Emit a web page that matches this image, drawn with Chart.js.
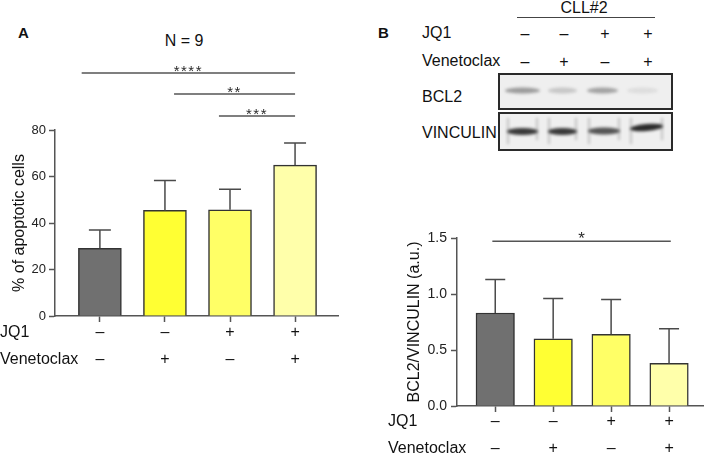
<!DOCTYPE html>
<html>
<head>
<meta charset="utf-8">
<script src="https://cdn.jsdelivr.net/npm/chart.js@4.4.1/dist/chart.umd.min.js"></script>
<style>
  body { margin: 0; width: 709px; height: 456px; background: #fff; position: relative; overflow: hidden;
         font-family: "Liberation Sans", Arial, sans-serif; color: #111; }
  .t { position: absolute; font-size: 16px; line-height: 16px; white-space: nowrap; transform: translateY(-50%); }
  .c { transform: translate(-50%, -50%); }
  canvas { position: absolute; }
</style>
</head>
<body>
<div class="t" style="left:18px;top:33px;font-weight:bold;font-size:15px">A</div>
<div class="t c" style="left:184px;top:41px">N = 9</div>

<div class="t" style="left:378px;top:33px;font-weight:bold;font-size:15px">B</div>
<div class="t c" style="left:584px;top:8px">CLL#2</div>
<div style="position:absolute;left:517px;top:17px;width:138px;height:1px;background:#444"></div>
<div class="t" style="left:422px;top:33px">JQ1</div>
<div class="t" style="left:422px;top:61px">Venetoclax</div>
<div id="blotSigns"></div>
<div class="t" style="left:422px;top:97px">BCL2</div>
<div class="t" style="left:422px;top:133px">VINCULIN</div>
<canvas id="blot" width="178" height="80" style="left:497px;top:72px"></canvas>

<canvas id="chartA" width="360" height="456" style="left:0;top:0"></canvas>
<canvas id="chartB" width="349" height="296" style="left:360px;top:160px"></canvas>

<script>
// Treatment rows (shared by both panels)
const jq1Row = ['–', '–', '+', '+'];
const venRow = ['–', '+', '–', '+'];
const barColors = ['#707070', '#ffff33', '#ffff66', '#ffffaa'];

// Panel A: % apoptotic cells, mean and SD
const apoptosisMean = [29.1, 45.4, 45.7, 64.9];
const apoptosisSD = [7.9, 12.9, 8.8, 9.5];
const apoptosisTicks = [0, 20, 40, 60, 80];
const sigA = [
    { from: 0.72, to: 4, y: 104.5, label: '****' },
    { from: 2.14, to: 4, y: 95.5, label: '**' },
    { from: 2.83, to: 4, y: 86, label: '***' }
];

// Panel B: BCL2/VINCULIN densitometry, mean and SD
const bcl2Mean = [0.83, 0.60, 0.64, 0.38];
const bcl2SD = [0.30, 0.36, 0.31, 0.31];
const bcl2Ticks = [0, 0.5, 1.0, 1.5];
const sigB = [{ from: 0.95, to: 4.03, y: 1.47, label: '*' }];

// Western blot band intensities (lanes 1-4)
const bcl2Band = [0.42, 0.2, 0.38, 0.09];
const vincBand = [0.85, 0.85, 0.72, 0.92];

// Draw error bars, significance bars and treatment rows
function overlay(mean, sd, sigs, opts) {
    return {
        id: 'overlay',
        afterDatasetsDraw(chart) {
            const { ctx, scales: { x, y } } = chart;
            ctx.save();
            ctx.strokeStyle = '#4a4a4a';
            ctx.lineWidth = 1.5;
            mean.forEach((m, i) => {
                const px = x.getPixelForValue(i + 1);
                const y0 = y.getPixelForValue(m);
                const y1 = y.getPixelForValue(m + sd[i]);
                ctx.beginPath();
                ctx.moveTo(px, y0);
                ctx.lineTo(px, y1);
                ctx.moveTo(px - opts.cap / 2, y1);
                ctx.lineTo(px + opts.cap / 2, y1);
                ctx.stroke();
            });
            ctx.restore();
        },
        afterDraw(chart) {
            const { ctx, scales: { x, y } } = chart;
            ctx.save();
            ctx.strokeStyle = '#555';
            ctx.fillStyle = '#2a2a2a';
            ctx.lineWidth = 1.5;
            ctx.font = opts.starFont + ' "Liberation Sans", Arial, sans-serif';
            ctx.textAlign = 'center';
            ctx.textBaseline = 'alphabetic';
            ctx.letterSpacing = opts.starSpacing;
            sigs.forEach(s => {
                const x0 = x.getPixelForValue(s.from);
                const x1 = x.getPixelForValue(s.to);
                const py = y.getPixelForValue(s.y);
                ctx.beginPath();
                ctx.moveTo(x0, py);
                ctx.lineTo(x1, py);
                ctx.stroke();
                ctx.fillText(s.label, (x0 + x1) / 2, py + opts.starDy);
            });
            ctx.letterSpacing = '0px';
            ctx.fillStyle = '#111';
            ctx.font = '16px "Liberation Sans", Arial, sans-serif';
            ctx.textBaseline = 'middle';
            [[ 'JQ1', jq1Row ], [ 'Venetoclax', venRow ]].forEach(([name, row], r) => {
                const ry = opts.rowY[r];
                ctx.textAlign = 'left';
                ctx.fillText(name, opts.rowX, ry);
                ctx.textAlign = 'center';
                row.forEach((sign, i) => ctx.fillText(sign, x.getPixelForValue(i + 1), ry));
            });
            ctx.restore();
        }
    };
}

function barChart(id, mean, sd, sigs, cfg) {
    const ctx = document.getElementById(id).getContext('2d');
    return new Chart(ctx, {
        type: 'bar',
        data: {
            datasets: [{
                data: mean.map((v, i) => ({ x: i + 1, y: v })),
                backgroundColor: barColors,
                borderColor: '#333',
                borderWidth: 1.5,
                barThickness: cfg.barWidth
            }]
        },
        options: {
            responsive: false,
            animation: false,
            layout: { padding: cfg.padding },
            plugins: { legend: { display: false }, tooltip: { enabled: false } },
            scales: {
                x: {
                    type: 'linear',
                    offset: false,
                    min: cfg.xMin,
                    max: cfg.xMax,
                    afterBuildTicks: s => { s.ticks = [1, 2, 3, 4].map(v => ({ value: v })); },
                    afterFit: s => { s.height = cfg.xHeight; },
                    ticks: { display: false },
                    grid: { offset: false, drawOnChartArea: false, tickLength: 6, tickColor: '#555', tickWidth: 1.5 },
                    border: { color: '#555', width: 1.5 }
                },
                y: {
                    min: cfg.yTicks[0],
                    max: cfg.yTicks[cfg.yTicks.length - 1],
                    afterBuildTicks: s => { s.ticks = cfg.yTicks.map(v => ({ value: v })); },
                    afterFit: s => { s.width = cfg.yWidth; },
                    ticks: {
                        color: '#222',
                        padding: cfg.tickPad,
                        font: { size: cfg.tickSize, family: '"Liberation Sans", Arial, sans-serif' },
                        callback: cfg.tickFmt
                    },
                    grid: { drawOnChartArea: false, tickLength: 6, tickColor: '#555', tickWidth: 1.5 },
                    border: { color: '#555', width: 1.5 },
                    title: {
                        display: true,
                        text: cfg.yTitle,
                        color: '#111',
                        font: { size: 16, family: '"Liberation Sans", Arial, sans-serif' },
                        padding: { top: cfg.titlePad, bottom: 0 }
                    }
                }
            }
        },
        plugins: [overlay(mean, sd, sigs, cfg)]
    });
}

barChart('chartA', apoptosisMean, apoptosisSD, sigA, {
    barWidth: 43, padding: { top: 130, right: 22, left: 0, bottom: 0 },
    xMin: 0.31, xMax: 4.66, xHeight: 140, yWidth: 55, yTicks: apoptosisTicks,
    tickPad: 3, tickSize: 13, tickFmt: v => v, yTitle: '% of apoptotic cells', titlePad: 10,
    cap: 22, starFont: '15px', starSpacing: '1.5px', starDy: 3, rowX: 0, rowY: [333, 360]
});

barChart('chartB', bcl2Mean, bcl2SD, sigB, {
    barWidth: 38.5, padding: { top: 78, right: 6, left: 0, bottom: 0 },
    xMin: 0.34, xMax: 4.586, xHeight: 50, yWidth: 97, yTicks: bcl2Ticks,
    tickPad: 4, tickSize: 14, tickFmt: v => Number(v).toFixed(1), yTitle: 'BCL2/VINCULIN (a.u.)', titlePad: 45,
    cap: 20, starFont: '17px', starSpacing: '0px', starDy: 3, rowX: 28, rowY: [262, 289]
});

// Blot treatment signs above lanes
const laneX = [525, 564, 605, 648];
let signHtml = '';
laneX.forEach((lx, i) => {
    signHtml += `<div class="t c" style="left:${lx}px;top:34px">${jq1Row[i]}</div>`;
    signHtml += `<div class="t c" style="left:${lx}px;top:62px">${venRow[i]}</div>`;
});
document.getElementById('blotSigns').innerHTML = signHtml;

// Western blot image (BCL2 and VINCULIN strips)
function drawBlot() {
    const ctx = document.getElementById('blot').getContext('2d');
    const strips = [{ top: 2, h: 35 }, { top: 41, h: 37 }];
    strips.forEach(s => {
        ctx.fillStyle = '#efefef';
        ctx.fillRect(2, s.top, 173, s.h);
    });
    const bcl2Lanes = [[8, 43], [51, 80], [90, 121], [130, 161]];
    const vincLanes = [[10, 41], [51, 80], [91, 123], [133, 166]];
    const vincY = [59.5, 59.5, 59, 55.5];
    ctx.save();
    ctx.filter = 'blur(1.6px)';
    bcl2Lanes.forEach(([a, b], i) => {
        ctx.fillStyle = `rgba(40,40,40,${bcl2Band[i]})`;
        ctx.beginPath();
        ctx.ellipse((a + b) / 2, 18.5, (b - a) / 2, 3, 0, 0, Math.PI * 2);
        ctx.fill();
    });
    vincLanes.forEach(([a, b], i) => {
        ctx.fillStyle = `rgba(25,25,25,${vincBand[i]})`;
        ctx.beginPath();
        ctx.ellipse((a + b) / 2, vincY[i], (b - a) / 2, 3.5, i === 3 ? -0.08 : 0, 0, Math.PI * 2);
        ctx.fill();
        ctx.fillStyle = 'rgba(60,60,60,0.25)';
        ctx.fillRect(a, 46, 2, 26);
        ctx.fillRect(b - 2, 46, 2, 22);
    });
    ctx.restore();
    ctx.strokeStyle = '#2a2a2a';
    ctx.lineWidth = 2;
    strips.forEach(s => ctx.strokeRect(2, s.top, 173, s.h));
}
drawBlot();
</script>
</body>
</html>
